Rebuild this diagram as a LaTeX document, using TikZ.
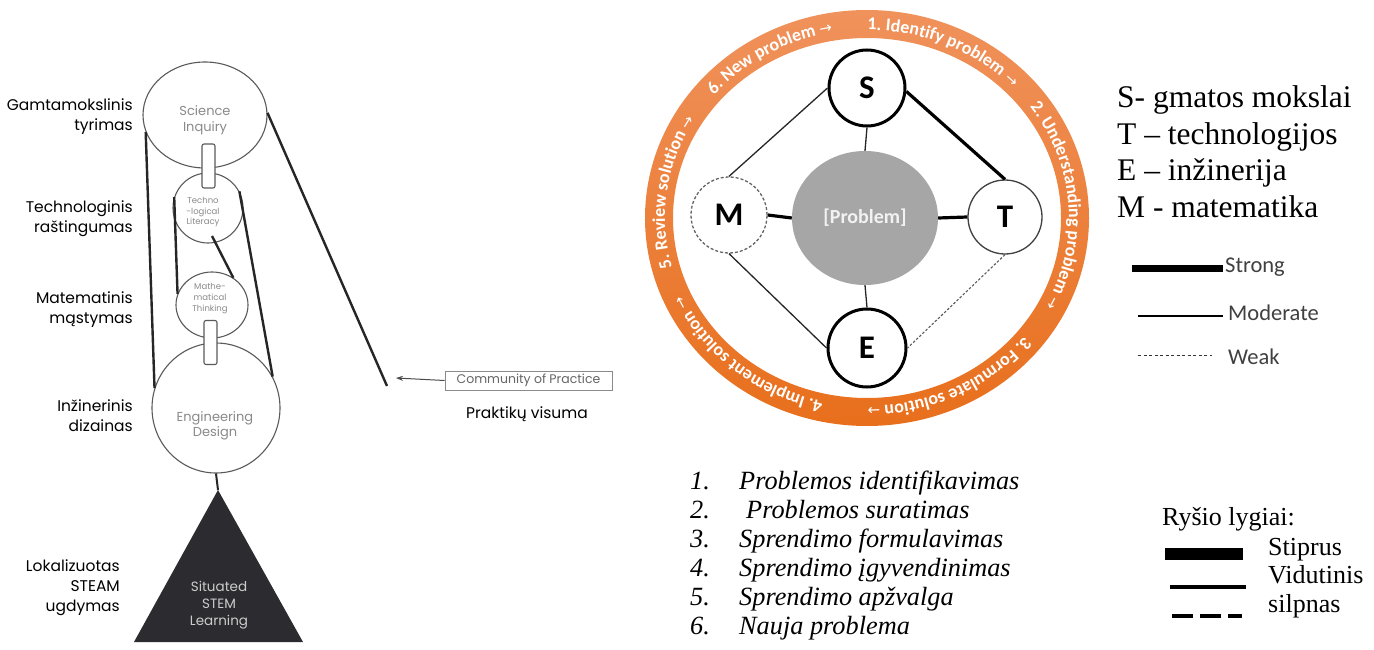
\documentclass[tikz,border=0pt]{standalone}
\usepackage{fontspec}
\setmainfont{Liberation Serif}
\newfontfamily\geo{Poppins}
\newfontfamily\calfont{Carlito}
\newfontfamily\dvs{DejaVu Sans}
\usetikzlibrary{shapes.geometric,decorations.text,arrows.meta,calc}

\definecolor{ringtop}{HTML}{F0925C}
\definecolor{ringbot}{HTML}{E86F1C}
\definecolor{probgray}{HTML}{A6A6A6}
\definecolor{inkgray}{HTML}{5A5A5A}
\definecolor{softgray}{HTML}{8A8A8A}
\definecolor{tridark}{HTML}{2B2B30}
\definecolor{legendgray}{HTML}{404040}

\newcommand\ringfont{\calfont\bfseries\fontsize{18}{20}\selectfont\color{white}}
\newcommand\ringarrow{\dvs\mdseries\fontsize{15}{17}\selectfont\color{white}}

\begin{document}
\begin{tikzpicture}[x=1pt,y=1pt,
  ball/.style={ellipse, draw=inkgray, line width=1.1, fill=white, inner sep=0},
  balltext/.style={align=center, text=softgray, inner sep=0},
  pillbox/.style={rectangle, rounded corners=2, draw=inkgray, fill=white, line width=1.1,
    minimum width=13, minimum height=44, inner sep=0},
  band/.style={draw=black!85, line width=2.4},
  sidelabel/.style={anchor=east, align=right, inner sep=0, font=\geo\fontsize{15.5}{20}\selectfont},
  disc/.style={circle, fill=white, minimum size=#1, inner sep=0,
    font=\calfont\bfseries\fontsize{33}{33}\selectfont},
  strongtie/.style={draw=black, line width=3.2},
  modtie/.style={draw=black!85, line width=1.3},
  weaktie/.style={draw=black!65, line width=1.1, dash pattern=on 2.5 off 1.8},
  ringlabel/.style={decorate, decoration={text along path, text align=center, text={#1}}},
  keytext/.style={anchor=base west, inner sep=0, font=\fontsize{31.5}{36}\selectfont},
  stepitem/.style={anchor=base west, inner sep=0, font=\itshape\fontsize{26.3}{29}\selectfont},
  lvltext/.style={anchor=base west, inner sep=0, font=\fontsize{26}{29}\selectfont},
  linekey/.style={anchor=west, inner sep=0, text=legendgray, font=\calfont\fontsize{22.5}{24}\selectfont}
]
\useasboundingbox (0,0) rectangle (1374,-650);
\fill[white] (0,0) rectangle (1374,-650);

% ---------------- STEM learning stack ----------------
\node[ball, minimum width=124, minimum height=106] (sci)  at (205,-115) {};
\node[ball, minimum width=70,  minimum height=70]  (tech) at (208,-208) {};
\node[ball, minimum width=72,  minimum height=66]  (math) at (212,-305) {};
\node[ball, minimum width=128, minimum height=130] (eng)  at (216,-408) {};

\node[balltext, font=\geo\fontsize{13}{15.5}\selectfont] (scitxt) at (205,-120) {Science\\Inquiry};
\node[balltext, font=\geo\fontsize{8.5}{10.5}\selectfont] (techtxt) at (203,-212) {Techno\\-logical\\Literacy};
\node[balltext, font=\geo\fontsize{8.5}{11}\selectfont] (mathtxt) at (210,-299) {Mathe-\\matical\\Thinking};
\node[balltext, font=\geo\fontsize{13}{14.5}\selectfont] (engtxt) at (215,-426) {Engineering\\Design};

\node[pillbox] (pillA) at (208.5,-166) {};
\node[pillbox] (pillB) at (210.5,-342.5) {};

\coordinate (techin) at (212,-236);
\coordinate (apex) at (218,-490);
\coordinate (cpend) at (387,-386);

\draw[band] (sci.196) -- (eng.162);
\draw[band] (sci.2) -- (cpend);
\draw[band] (tech.162) -- (math.162);
\draw[band] (techin) -- (math.52);
\draw[band] (tech.28) -- (eng.29);
\draw[draw=black!85, line width=2] (eng.south) -- (apex);

\fill[tridark] (apex) -- (134,-642) -- (303,-642) -- cycle;
\node[align=center, text=black!20, inner sep=0, font=\geo\fontsize{13.5}{17}\selectfont] (tritxt) at (219,-605) {Situated\\STEM\\Learning};

% side labels
\node[sidelabel] (lab1) at (133,-117) {Gamtamokslinis\\tyrimas};
\node[sidelabel] (lab2) at (133,-219) {Technologinis\\raštingumas};
\node[sidelabel] (lab3) at (133,-310) {Matematinis\\mąstymas};
\node[sidelabel] (lab4) at (133,-416) {Inžinerinis\\dizainas};
\node[sidelabel] (lab5) at (120,-588) {Lokalizuotas\\STEAM\\ugdymas};

% community of practice
\node[draw=softgray, line width=0.9, minimum width=167, minimum height=19, inner sep=0,
  text=black!60, font=\geo\fontsize{12.5}{14}\selectfont] (cop) at (528.5,-380.5) {Community of Practice};
\node[inner sep=0, font=\geo\fontsize{15.5}{18}\selectfont] (copname) at (527,-414) {Praktikų visuma};
\coordinate (coptip) at (396,-378);
\draw[draw=black!70, line width=1, -{Stealth[length=7,width=5]}] (cop.west) -- (coptip);

% ---------------- problem cycle ----------------
\coordinate (ring) at (867,-218);
\shade[top color=ringtop, bottom color=ringbot, even odd rule]
  (ring) ellipse [x radius=222, y radius=208]
  (ring) ellipse [x radius=194, y radius=180];

\path[ringlabel={|\ringfont|1. Identify problem |\ringarrow|→}]
  ($(ring)+(106.5:202 and 188)$) arc[start angle=106.5, end angle=26.5, x radius=202, y radius=188];
\path[ringlabel={|\ringfont|2. Understanding problem |\ringarrow|→}]
  ($(ring)+(44:202 and 188)$) arc[start angle=44, end angle=-36, x radius=202, y radius=188];
\path[ringlabel={|\ringfont|3. Formulate solution |\ringarrow|→}]
  ($(ring)+(-24:202 and 188)$) arc[start angle=-24, end angle=-104, x radius=202, y radius=188];
\path[ringlabel={|\ringfont|4. Implement solution |\ringarrow|→}]
  ($(ring)+(-89.5:202 and 188)$) arc[start angle=-89.5, end angle=-169.5, x radius=202, y radius=188];
\path[ringlabel={|\ringfont|5. Review solution |\ringarrow|→}]
  ($(ring)+(212:202 and 188)$) arc[start angle=212, end angle=132, x radius=202, y radius=188];
\path[ringlabel={|\ringfont|6. New problem |\ringarrow|→}]
  ($(ring)+(160:202 and 188)$) arc[start angle=160, end angle=80, x radius=202, y radius=188];

\node[disc=76, draw=black, line width=3] (S) at (867,-88) {S};
\node[disc=74, draw=black!75, line width=1.3] (T) at (1005,-217) {T};
\node[disc=78, draw=black, line width=3] (E) at (867,-348) {E};
\node[disc=76, draw=black!60, line width=1.3, dash pattern=on 3 off 2] (M) at (729,-215) {M};
\node[ellipse, fill=probgray, minimum width=146, minimum height=134, inner sep=0,
  text=black!5, font=\calfont\bfseries\fontsize{20}{22}\selectfont] (P) at (865,-218) {[Problem]};

\draw[strongtie] (S.-5) -- (T.north);
\draw[modtie] (S.west) -- (M.north);
\draw[modtie] (M.south) -- (E.west);
\draw[weaktie] (T.south) -- (E.east);
\draw[modtie] (S.south) -- (P.north);
\draw[modtie] (P.south) -- (E.north);
\draw[strongtie] (M.east) -- (P.west);
\draw[strongtie] (P.east) -- (T.west);

% ---------------- key ----------------
\node[keytext] (keyS) at (1117,-108) {S- gmatos mokslai};
\node[keytext] (keyT) at (1117,-145) {T – technologijos};
\node[keytext] (keyE) at (1117,-181) {E – inžinerija};
\node[keytext] (keyM) at (1117,-217) {M - matematika};

\coordinate (stA) at (1132,-268); \coordinate (stB) at (1223,-268);
\coordinate (moA) at (1138,-316); \coordinate (moB) at (1223,-316);
\coordinate (wkA) at (1138,-355); \coordinate (wkB) at (1212,-355);
\draw[draw=black, line width=7] (stA) -- (stB);
\draw[draw=black, line width=2.5] (moA) -- (moB);
\draw[draw=black!80, line width=0.9, dash pattern=on 3 off 2.5] (wkA) -- (wkB);
\node[linekey] (kStrong) at (1225,-267) {Strong};
\node[linekey] (kModerate) at (1228,-313) {Moderate};
\node[linekey] (kWeak) at (1228,-357) {Weak};

% ---------------- step list ----------------
\foreach \n/\t/\x/\y in {1/Problemos identifikavimas/739/489,
                         2/Problemos suratimas/746/518,
                         3/Sprendimo formulavimas/739/547,
                         4/Sprendimo įgyvendinimas/739/576,
                         5/Sprendimo apžvalga/739/605,
                         6/Nauja problema/739/634}{
  \node[stepitem] (num\n) at (690,-\y) {\n.};
  \node[stepitem] (item\n) at (\x,-\y) {\t};
}

% ---------------- link levels ----------------
\node[lvltext] (lvl) at (1162,-525) {Ryšio lygiai:};
\coordinate (lsA) at (1165,-554); \coordinate (lsB) at (1243,-554);
\coordinate (lmA) at (1170,-587); \coordinate (lmB) at (1246,-587);
\coordinate (lwA) at (1172,-616); \coordinate (lwB) at (1242,-616);
\draw[draw=black, line width=12] (lsA) -- (lsB);
\draw[draw=black, line width=3.5] (lmA) -- (lmB);
\draw[draw=black, line width=4, dash pattern=on 21 off 7] (lwA) -- (lwB);
\node[lvltext] (lvS) at (1268,-555) {Stiprus};
\node[lvltext] (lvM) at (1268,-583) {Vidutinis};
\node[lvltext] (lvW) at (1268,-612) {silpnas};
\end{tikzpicture}
\end{document}
